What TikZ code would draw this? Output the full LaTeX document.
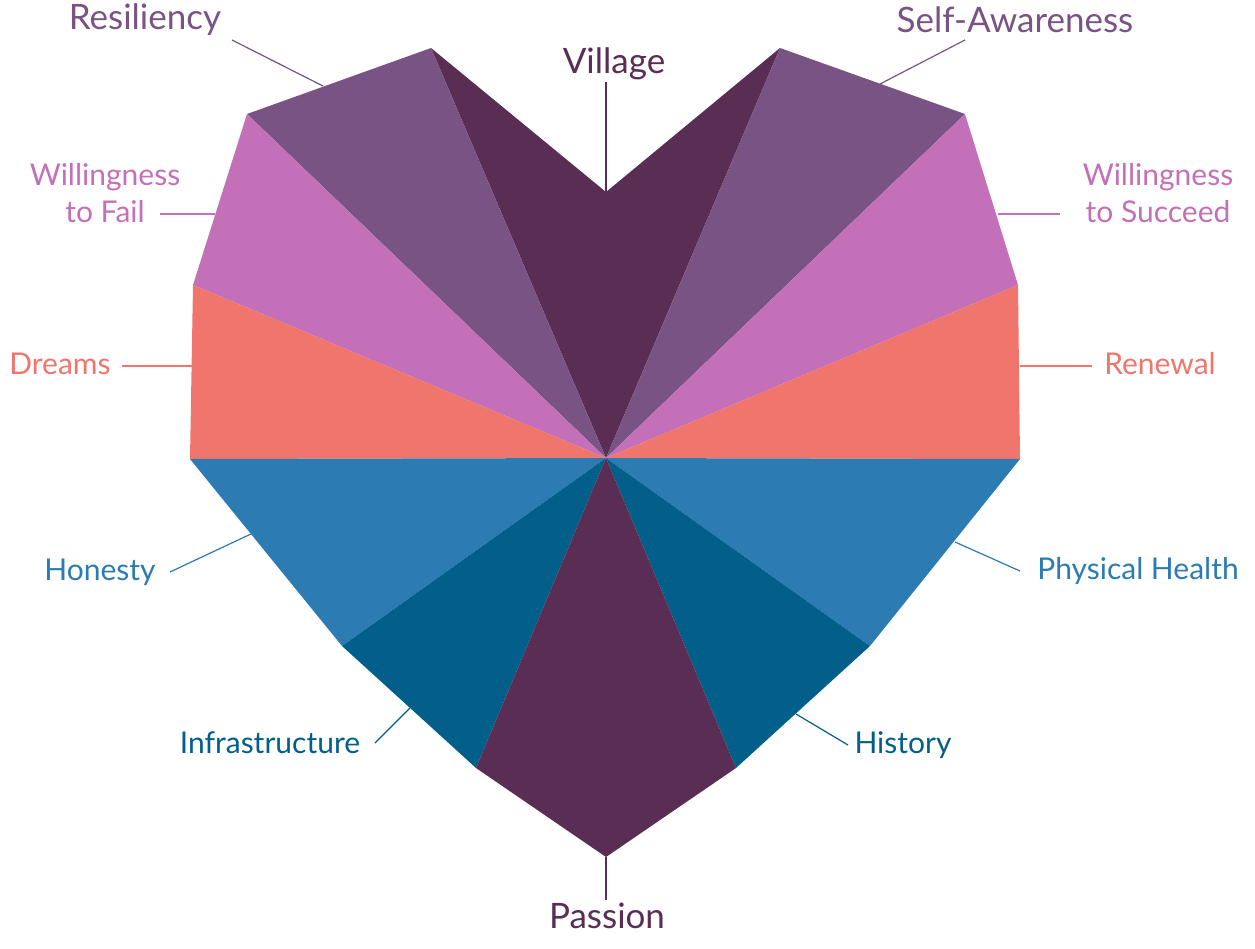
\documentclass[tikz,border=0pt]{standalone}
\usepackage{fontspec}
\setmainfont{Lato}
\definecolor{plum}{HTML}{5A2D54}
\definecolor{mauve}{HTML}{785383}
\definecolor{orchid}{HTML}{C470B8}
\definecolor{salmon}{HTML}{F0756C}
\definecolor{sky}{HTML}{2C7BB2}
\definecolor{teal}{HTML}{025F8A}
\tikzset{
  lbl/.style={font=\fontsize{30}{37}\selectfont, text=#1, inner sep=2pt},
  big/.style={font=\fontsize{35}{40}\selectfont},
  lead/.style={draw=#1, line width=1.2pt},
}
\begin{document}
\begin{tikzpicture}[x=1pt,y=-1pt]
  \useasboundingbox (0,0) rectangle (1255,948);
  % corners of the heart
  \coordinate (c) at (606,458);
  \foreach \n/\x/\y in {notch/606/192, tr/780/48, r1/965/114, r2/1018/285, r3/1020/459,
      r4/870/646, r5/736/768, bot/606/857, l5/476/768, l4/342/646, l3/190/459,
      l2/193/285, l1/247/114, tl/431/48} {
    \coordinate (\n) at (\x,\y);
  }
  % wedges
  \fill[plum] (c) -- (tl) -- (notch) -- (tr) -- cycle;
  \fill[mauve] (c) -- (l1) -- (tl) -- cycle;
  \fill[mauve] (c) -- (tr) -- (r1) -- cycle;
  \fill[orchid] (c) -- (l2) -- (l1) -- cycle;
  \fill[orchid] (c) -- (r1) -- (r2) -- cycle;
  \fill[salmon] (c) -- (l3) -- (l2) -- cycle;
  \fill[salmon] (c) -- (r2) -- (r3) -- cycle;
  \fill[sky] (c) -- (l4) -- (l3) -- cycle;
  \fill[sky] (c) -- (r3) -- (r4) -- cycle;
  \fill[teal] (c) -- (l5) -- (l4) -- cycle;
  \fill[teal] (c) -- (r4) -- (r5) -- cycle;
  \fill[plum] (c) -- (l5) -- (bot) -- (r5) -- cycle;
  % labels
  \node[lbl=plum, big] (village) at (614,64) {Village};
  \node[lbl=mauve, big] (resil) at (145,20) {Resiliency};
  \node[lbl=mauve, big] (selfaw) at (1015,20) {Self-Awareness};
  \node[lbl=orchid, align=center] (fail) at (105,193) {Willingness\\to Fail};
  \node[lbl=orchid, align=center] (succ) at (1158,193) {Willingness\\to Succeed};
  \node[lbl=salmon] (dreams) at (60,364) {Dreams};
  \node[lbl=salmon] (renew) at (1160,364) {Renewal};
  \node[lbl=sky] (honest) at (100,572) {Honesty};
  \node[lbl=sky] (health) at (1138,571) {Physical Health};
  \node[lbl=teal] (infra) at (270,743) {Infrastructure};
  \node[lbl=teal] (hist) at (903,745) {History};
  \node[lbl=plum, big] (passion) at (607,916) {Passion};
  % leader lines
  \coordinate (a0) at (606,82);
  \coordinate (a1) at (323,86);   \coordinate (a2) at (880,84);
  \coordinate (a3) at (215,214);  \coordinate (a4) at (998,214);
  \coordinate (a5) at (192,366);  \coordinate (a6) at (1020,366);
  \coordinate (a7) at (253,533);  \coordinate (a8) at (955,542);
  \coordinate (a9) at (410,708);  \coordinate (a10) at (796,714);
  \coordinate (a11) at (606,900);
  \draw[lead=plum] (a0) -- (notch);
  \draw[lead=mauve] (232,40) -- (a1);
  \draw[lead=mauve] (965,40) -- (a2);
  \draw[lead=orchid] (160,214) -- (a3);
  \draw[lead=orchid] (1060,214) -- (a4);
  \draw[lead=salmon] (122,366) -- (a5);
  \draw[lead=salmon] (1092,366) -- (a6);
  \draw[lead=sky] (170,572) -- (a7);
  \draw[lead=sky] (1020,571) -- (a8);
  \draw[lead=teal] (375,743) -- (a9);
  \draw[lead=teal] (848,745) -- (a10);
  \draw[lead=plum] (bot) -- (a11);
\end{tikzpicture}
\end{document}
